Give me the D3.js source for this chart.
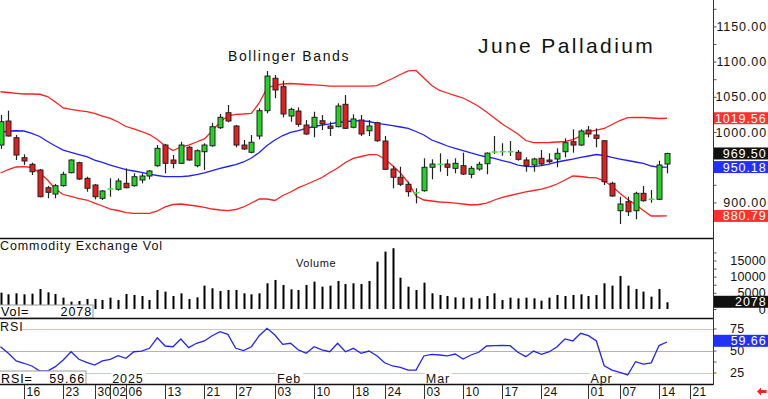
<!DOCTYPE html>
<html>
<head>
<meta charset="utf-8">
<script src="https://cdn.jsdelivr.net/npm/d3@7"></script>
<style>
  body { margin: 0; background: #fff; }
  svg { display: block; }
  text { font-family: "Liberation Sans", Arial, sans-serif; }
</style>
</head>
<body>
<div id="chart"></div>
<script>
// Trading days on the chart
const dates = ("2024-12-11 2024-12-12 2024-12-13 2024-12-16 2024-12-17 2024-12-18 2024-12-19 2024-12-20 " +
  "2024-12-23 2024-12-24 2024-12-26 2024-12-27 2024-12-30 2024-12-31 2025-01-02 2025-01-03 2025-01-06 " +
  "2025-01-07 2025-01-08 2025-01-09 2025-01-10 2025-01-13 2025-01-14 2025-01-15 2025-01-16 2025-01-17 " +
  "2025-01-21 2025-01-22 2025-01-23 2025-01-24 2025-01-27 2025-01-28 2025-01-29 2025-01-30 2025-01-31 " +
  "2025-02-03 2025-02-04 2025-02-05 2025-02-06 2025-02-07 2025-02-10 2025-02-11 2025-02-12 2025-02-13 " +
  "2025-02-14 2025-02-18 2025-02-19 2025-02-20 2025-02-21 2025-02-24 2025-02-25 2025-02-26 2025-02-27 " +
  "2025-02-28 2025-03-03 2025-03-04 2025-03-05 2025-03-06 2025-03-07 2025-03-10 2025-03-11 2025-03-12 " +
  "2025-03-13 2025-03-14 2025-03-17 2025-03-18 2025-03-19 2025-03-20 2025-03-21 2025-03-24 2025-03-25 " +
  "2025-03-26 2025-03-27 2025-03-28 2025-03-31 2025-04-01 2025-04-02 2025-04-03 2025-04-04 2025-04-07 " +
  "2025-04-08 2025-04-09 2025-04-10 2025-04-11 2025-04-14 2025-04-15").split(" ");
const futureDates = ["2025-04-16", "2025-04-17", "2025-04-21", "2025-04-22", "2025-04-23"];

// OHLC
const open = [981.5,1015.6,991.9,963.5,954.1,946,920.9,911.9,923.7,942.2,
  956.4,934.2,924.7,905.8,919,918.6,927.1,923.7,931.8,937.5,
  952.1,981.5,960.2,955.5,978.3,952.1,972,980.5,1006.1,1027.4,
  1008.5,981.5,971.2,994.3,1030.3,1076.3,1064.4,1022.7,1029.8,1009.9,
  1006.7,1016,1008.5,1007.5,1039.3,1006.7,1017,1001.8,1013.2,987.2,
  947.4,935.7,925.7,913.8,916.6,949.9,954.1,954.5,948.4,952.1,
  939.9,947.4,955,971.6,972,972,971.2,960.2,953.1,962.6,
  960.2,961.6,972,986.2,981.5,1002.8,995.7,987.6,927.1,888.2,
  901,888.2,912.9,904.4,904.4,954.5];
const high = [1024.1,1030.3,995.7,968.3,956.4,947.4,923.3,926.1,943.6,961.2,
  957.8,936.5,926.1,917.6,934.2,934.2,948.4,941.3,941.3,946,
  981.5,983,967.3,986.2,980.1,975.4,984,1013.2,1025.6,1038.4,
  1009.9,988.6,995.7,1033.7,1086.6,1081,1072.9,1034.5,1035,1017,
  1028.8,1024.1,1014.6,1040.8,1052.6,1025.1,1024.1,1017,1014.6,994.3,
  951.7,950.7,929.4,920,962.6,961.2,969.7,961.2,962.6,970.6,
  951.7,957.8,971,994.3,984,987.2,974.4,964,963.5,974.4,
  969.7,976.8,991,1003.8,1003.8,1008.5,1005.2,988.6,929.4,908.1,
  908.1,915.2,923.3,917.6,959.2,970.6];
const low = [975.9,993.6,960.2,953.1,938.9,907.2,905.8,905.8,922.3,941.3,
  931.8,915.2,904.4,903.4,908.1,916.6,920,922.3,927.1,932.8,
  950.7,941.3,948.4,954.5,959.2,949.9,946,979.1,1004.3,1013.8,
  978.3,974.4,969.7,989.6,1026.6,1047.9,1020.9,1014.6,1007.5,995.7,
  992.5,1002.8,994.3,1006.7,1004.3,1005.2,994.3,994.3,986.2,946,
  920,923.3,908.1,898.7,915.2,932.8,943.6,937.5,941.3,938.9,
  934.2,945,940,968.8,966.3,965.9,959.2,943.6,943.6,951.7,
  955.5,949.9,964,970.6,980.1,992.5,978.3,924.7,908.1,869.3,
  880.7,876,901,899.6,903.4,941.3];
const close = [1014.6,994.3,967.3,958.8,943.6,908.1,914.3,923.7,939.9,960.2,
  933.2,920,908.1,916.2,919,930.4,920.9,936.5,937.5,944.6,
  976.8,955.5,955.5,981.5,960.2,973.4,981.5,1007.5,1020.9,1015.6,
  981.5,975.9,985.4,1030.3,1079.5,1059.7,1025.6,1032.2,1010.9,997.2,
  1020.9,1011.4,1005.2,1036.9,1005.2,1018.5,997.2,1008.5,987.6,947,
  935.7,925.7,915.2,913.8,949.9,954.5,954.1,949.9,955.5,940.3,
  948.4,954.1,970,971.6,972,972,961.2,952.1,961.6,954.5,
  957.8,969.7,984.8,981.5,1001.4,997.2,991,929.4,909.1,897.7,
  886.8,912.9,902.4,904.4,953.1,969.5];

// Bollinger bands
const upperBand = [1057.2,1056.1,1055,1054,1054,1053.6,1050.4,1042.6,1034.1,1032,
  1030.5,1028.8,1026.3,1022.7,1019.2,1014.2,1007.8,1004.3,1000.7,996.4,
  989.3,980.1,973.7,978.7,981.5,985.8,990.1,1001.4,1014.2,1022.7,
  1024.9,1025.6,1026.6,1041.2,1062.5,1066.1,1068.2,1068.9,1068.2,1067.5,
  1066.8,1066.1,1065.3,1065.3,1065.3,1065.3,1065.3,1065.3,1065.8,1071,
  1076,1081.7,1086.7,1087.4,1076.7,1066.1,1059,1055.4,1051.8,1048.3,
  1042.6,1036.2,1028.4,1019.9,1011.4,1004.3,997.2,987.9,984.8,984.8,
  985.1,985.8,986.5,989.3,994.3,1000.4,1002.8,1005,1010.7,1016.3,
  1020.3,1020.9,1020.6,1019.9,1019.2,1019.56];
const midBand = [999.3,1001.4,1001.8,1001.4,997.9,993.6,986.5,980.1,974.4,970.9,
  968,964.9,960.2,956.7,953.1,949.6,946.7,944.6,942.5,940.3,
  938.2,936.5,936.5,936.5,937.5,939.6,941.8,945.3,948.2,951,
  953.8,957.4,963.1,970.9,980.8,988.6,995,999.3,1002.1,1005,
  1007.8,1009.9,1011.4,1013.5,1014.9,1015.6,1016.1,1014.9,1012.4,1010.7,
  1009.2,1007.1,1005,1000.7,995.7,988.6,984.4,980.1,976.6,973.7,
  970.2,967.3,964.5,962.4,959.5,956.7,953.1,951.3,950.7,952.1,
  954.5,957.4,959.5,961.6,963.8,965.9,968,966.6,963.8,961.6,
  959.5,957.4,955.3,951.7,949.9,950.18];
const lowerBand = [941.8,946.7,950.3,950.7,949.6,941.8,931.8,919,911.2,908.4,
  905.5,903.4,899.1,894.9,890.6,888.5,885.6,884.5,884.5,884.5,
  887.8,893.5,897,897.7,896.3,894.9,892.8,890.6,889.2,888.2,
  889.9,893.5,899.1,904.8,904.8,902.7,909.8,914.8,920.9,925.4,
  930.4,935.4,942.5,948.9,956.7,962.4,965.2,968,968,961.6,
  952.4,941.8,928.3,909.1,903.4,902,900.6,899.9,899.1,897.7,
  896.3,897,899.1,903.4,907,909.8,912.6,914.8,916.9,919,
  921.9,926.1,931.8,937.5,936.8,935.4,934.7,930.4,922.9,912.9,
  904.1,897,888.5,880.7,880.7,880.79];

// Volume and RSI
const volume = [5050,4540,4850,4540,4750,6190,5160,4640,3510,2270,
  2480,3100,3100,2790,3510,2790,4640,4330,4020,2790,
  5880,5370,4020,4850,3100,3610,7220,6400,5570,5880,
  5880,4850,4540,4850,7950,8980,7430,6090,5880,7430,
  8460,6910,7220,8670,7740,7950,7740,8670,14640,17740,
  18790,9690,6910,5880,8150,4850,4330,4020,3610,3510,
  3510,3300,4020,4850,2790,3510,3300,3510,3300,2580,
  3510,4330,4020,4330,4540,4020,4330,7950,7220,10220,
  7220,6190,5370,3820,6190,2078];
const rsi = [54.3,46.8,38.1,35.5,32.4,26.7,26.7,31.6,39.2,48.6,
  40,36.6,33.5,38.1,40,44.1,41.1,48.6,49.4,52.5,
  64.5,55.1,54.3,63.1,53.2,58.2,60.8,66.8,71.4,68.4,
  52.5,49.8,54.3,66.8,75.2,67.6,57,58.2,50.6,46.8,
  54.3,50.6,48.6,58.2,48.6,52.5,46.8,49.4,44.1,36.1,
  32.4,30.9,27.8,27.8,43.8,45.7,44.9,43.8,46,40.3,
  44.9,48,55.1,55.5,55.8,55.5,48,43,49.4,45.7,
  48.6,54.3,63.1,60.8,69.5,66.8,60.8,32.7,27.8,25.2,
  22.2,37.3,34.5,36,55.6,59.66];

// Axis labels
const tickDates = ["2024-12-16","2024-12-23","2024-12-30","2025-01-02","2025-01-06","2025-01-13",
  "2025-01-21","2025-01-27","2025-02-03","2025-02-10","2025-02-18","2025-02-24","2025-03-03",
  "2025-03-10","2025-03-17","2025-03-24","2025-04-01","2025-04-07","2025-04-14","2025-04-21"];
const tickLabels = ["16","23","30","02","06","13","21","27","03","10","18","24","03","10","17","24","01","07","14","21"];
const monthDates = ["2025-01-02","2025-02-03","2025-03-03","2025-04-01"];
const monthLabels = ["2025","Feb","Mar","Apr"];
const priceTicks = [900, 950, 1000, 1050, 1100, 1150];
const volTicks = [0, 5000, 10000, 15000];
const rsiTicks = [25, 50, 75];

const allDates = dates.concat(futureDates);
const n = dates.length;
const plotRight = 713;

const svg = d3.select("#chart").append("svg")
  .attr("width", 768).attr("height", 399);

// Scales
const x = d3.scaleLinear().domain([0, n - 1]).range([0.5, 666.9]);
const y = d3.scaleLinear().domain([900, 1150]).range([202.4, 26.4]);
const yVol = d3.scaleLinear().domain([0, 15000]).range([309, 260.5]);
const yRsi = d3.scaleLinear().domain([25, 75]).range([372.5, 328.5]);
const xd = d => x(allDates.indexOf(d));

const green = "#22d422", red = "#e81c1c";

// ---- Price panel ----
const line = (data, sy) => d3.line().x((d, i) => x(i)).y(d => sy(d))(data);

svg.append("path").attr("d", line(upperBand, y)).attr("fill", "none").attr("stroke", "#ff2020").attr("stroke-width", 1.3);
svg.append("path").attr("d", line(lowerBand, y)).attr("fill", "none").attr("stroke", "#ff2020").attr("stroke-width", 1.3);
svg.append("path").attr("d", line(midBand, y)).attr("fill", "none").attr("stroke", "#2020ff").attr("stroke-width", 1.3);

const candles = svg.append("g");
d3.range(n).forEach(i => {
  const cx = Math.round(x(i)) + 0.5;
  const o = open[i], c = close[i];
  candles.append("line")
    .attr("x1", cx).attr("x2", cx)
    .attr("y1", y(high[i])).attr("y2", y(low[i]))
    .attr("stroke", "#222").attr("stroke-width", 1.2);
  if (o === c) {
    candles.append("line")
      .attr("x1", cx - 3).attr("x2", cx + 3)
      .attr("y1", y(o)).attr("y2", y(o))
      .attr("stroke", "#33ee33").attr("stroke-width", 1.5);
  } else {
    const top = y(Math.max(o, c)), bot = y(Math.min(o, c));
    candles.append("rect")
      .attr("x", cx - 2.5).attr("width", 5)
      .attr("y", top).attr("height", Math.max(1, bot - top))
      .attr("fill", c > o ? green : red)
      .attr("stroke", "#222").attr("stroke-width", 1);
  }
});

svg.append("text").attr("x", 228).attr("y", 60.5)
  .attr("font-size", 14).attr("letter-spacing", 1.6).attr("fill", "#111")
  .text("Bollinger Bands");
svg.append("text").attr("x", 478).attr("y", 53)
  .attr("font-size", 21).attr("letter-spacing", 2.4).attr("fill", "#111")
  .text("June Palladium");

// ---- Volume panel ----
svg.append("g").selectAll("rect").data(volume).join("rect")
  .attr("x", (d, i) => Math.round(x(i)) - 0.5)
  .attr("width", 2)
  .attr("y", d => yVol(d))
  .attr("height", d => yVol(0) - yVol(d))
  .attr("fill", "#000");

svg.append("text").attr("x", 0).attr("y", 250)
  .attr("font-size", 12.5).attr("letter-spacing", 0.9).attr("fill", "#111")
  .text("Commodity Exchange Vol");
svg.append("text").attr("x", 296).attr("y", 266.5)
  .attr("font-size", 11).attr("letter-spacing", 0.6).attr("fill", "#111")
  .text("Volume");

svg.append("rect").attr("x", -1).attr("y", 305).attr("width", 94).attr("height", 13)
  .attr("fill", "#fff").attr("stroke", "#999");
svg.append("text").attr("x", 1).attr("y", 316).attr("font-size", 12.5).attr("letter-spacing", 0.9).text("Vol=");
svg.append("text").attr("x", 92).attr("y", 316).attr("font-size", 12.5).attr("letter-spacing", 0.9)
  .attr("text-anchor", "end").text(volume[n - 1]);

// ---- RSI panel ----
const rsiLevels = [
  { v: 75, color: "#ffb0b0", x0: 22 },
  { v: 50, color: "#b4b4b4", x0: 0 },
  { v: 25, color: "#c4c4ff", x0: 0 }
];
rsiLevels.forEach(l => {
  svg.append("line").attr("x1", l.x0).attr("x2", plotRight)
    .attr("y1", Math.round(yRsi(l.v)) + 0.5).attr("y2", Math.round(yRsi(l.v)) + 0.5)
    .attr("stroke", l.color).attr("stroke-width", 1);
});

// month labels with white backing
monthDates.forEach((d, k) => {
  const mx = xd(d) + 1;
  const t = svg.append("text").attr("x", mx + 1).attr("y", 382.5)
    .attr("font-size", 12.5).attr("letter-spacing", 0.9).attr("fill", "#111")
    .text(monthLabels[k]);
  const w = t.node().getComputedTextLength();
  svg.insert("rect", () => t.node()).attr("x", mx).attr("y", 371.5)
    .attr("width", w + 3).attr("height", 13).attr("fill", "#fff");
});

svg.append("path").attr("d", line(rsi, yRsi)).attr("fill", "none")
  .attr("stroke", "#2424f0").attr("stroke-width", 1.3);

svg.append("text").attr("x", 0).attr("y", 331)
  .attr("font-size", 12.5).attr("letter-spacing", 0.9).attr("fill", "#111").text("RSI");
svg.append("rect").attr("x", -1).attr("y", 371).attr("width", 87).attr("height", 13.5)
  .attr("fill", "#fff").attr("stroke", "#999");
svg.append("text").attr("x", 1).attr("y", 382.5).attr("font-size", 12.5).attr("letter-spacing", 0.9).text("RSI=");
svg.append("text").attr("x", 85).attr("y", 382.5).attr("font-size", 12.5).attr("letter-spacing", 0.9)
  .attr("text-anchor", "end").text(rsi[n - 1].toFixed(2));

// ---- Panel borders ----
[238.5, 318.5, 384.5].forEach(py => {
  svg.append("line").attr("x1", 0).attr("x2", plotRight).attr("y1", py).attr("y2", py)
    .attr("stroke", "#111").attr("stroke-width", 1.5);
});
svg.append("line").attr("x1", plotRight + 0.5).attr("x2", plotRight + 0.5).attr("y1", 0).attr("y2", 385)
  .attr("stroke", "#333").attr("stroke-width", 1);

// ---- Right axes ----
const axisG = svg.append("g").attr("transform", `translate(${plotRight + 0.5},0)`);
axisG.append("g").call(d3.axisRight(y).tickValues(d3.range(875, 1176, 25)).tickSize(3).tickFormat(""))
  .call(g => g.select(".domain").remove());
axisG.append("g").call(d3.axisRight(yVol).tickValues(d3.range(0, 17501, 2500)).tickSize(3).tickFormat(""))
  .call(g => g.select(".domain").remove());
axisG.append("g").call(d3.axisRight(yRsi).tickValues([25, 37.5, 50, 62.5, 75]).tickSize(3).tickFormat(""))
  .call(g => g.select(".domain").remove());
axisG.selectAll(".tick line").attr("stroke", "#555");

svg.append("g").selectAll("text").data(priceTicks).join("text")
  .attr("x", 767).attr("y", d => y(d) + 4.5)
  .attr("text-anchor", "end").attr("font-size", 12.5).attr("letter-spacing", 0.9).attr("fill", "#111")
  .text(d => d.toFixed(2));
svg.append("g").selectAll("text").data(volTicks).join("text")
  .attr("x", 766).attr("y", d => yVol(d) + 4.5)
  .attr("text-anchor", "end").attr("font-size", 12.5).attr("letter-spacing", 0.2).attr("fill", "#111")
  .text(d => d);
svg.append("g").selectAll("text").data(rsiTicks).join("text")
  .attr("x", 730).attr("y", d => yRsi(d) + 4.5)
  .attr("font-size", 12.5).attr("letter-spacing", 0.4).attr("fill", "#111")
  .text(d => d);

// value boxes on the right axis
const boxes = [
  { v: upperBand[n - 1], s: y, fill: "#ff3030", label: upperBand[n - 1].toFixed(2) },
  { v: close[n - 1], s: y, fill: "#111", label: close[n - 1].toFixed(2) },
  { v: midBand[n - 1], s: y, fill: "#2030ff", label: midBand[n - 1].toFixed(2) },
  { v: lowerBand[n - 1], s: y, fill: "#ff3030", label: lowerBand[n - 1].toFixed(2) },
  { v: volume[n - 1], s: yVol, fill: "#111", label: String(volume[n - 1]), dy: -0.5 },
  { v: rsi[n - 1], s: yRsi, fill: "#2030ff", label: rsi[n - 1].toFixed(2), dy: -1.2 }
];
boxes.forEach(b => {
  const cy = b.s(b.v) + (b.dy || 0);
  svg.append("rect").attr("x", 714).attr("y", cy - 6).attr("width", 54).attr("height", 12)
    .attr("fill", b.fill);
  svg.append("text").attr("x", 766.5).attr("y", cy + 4.5)
    .attr("text-anchor", "end").attr("font-size", 12.5).attr("letter-spacing", 0.9).attr("fill", "#fff")
    .text(b.label);
});

// ---- Date axis ----
const dateG = svg.append("g");
tickDates.forEach((d, k) => {
  const tx = Math.round(xd(d)) + 0.5;
  dateG.append("line").attr("x1", tx).attr("x2", tx).attr("y1", 385).attr("y2", 399)
    .attr("stroke", "#333");
  dateG.append("text").attr("x", tx + 2).attr("y", 395.5)
    .attr("font-size", 12).attr("letter-spacing", 0.3).attr("fill", "#111")
    .text(tickLabels[k]);
});

// little red arrow, bottom right
svg.append("path")
  .attr("d", "M757,391.5 L761,387.5 L761,390 L766.5,390 L766.5,393 L761,393 L761,395.5 Z")
  .attr("fill", "#ff2020");
</script>
</body>
</html>
